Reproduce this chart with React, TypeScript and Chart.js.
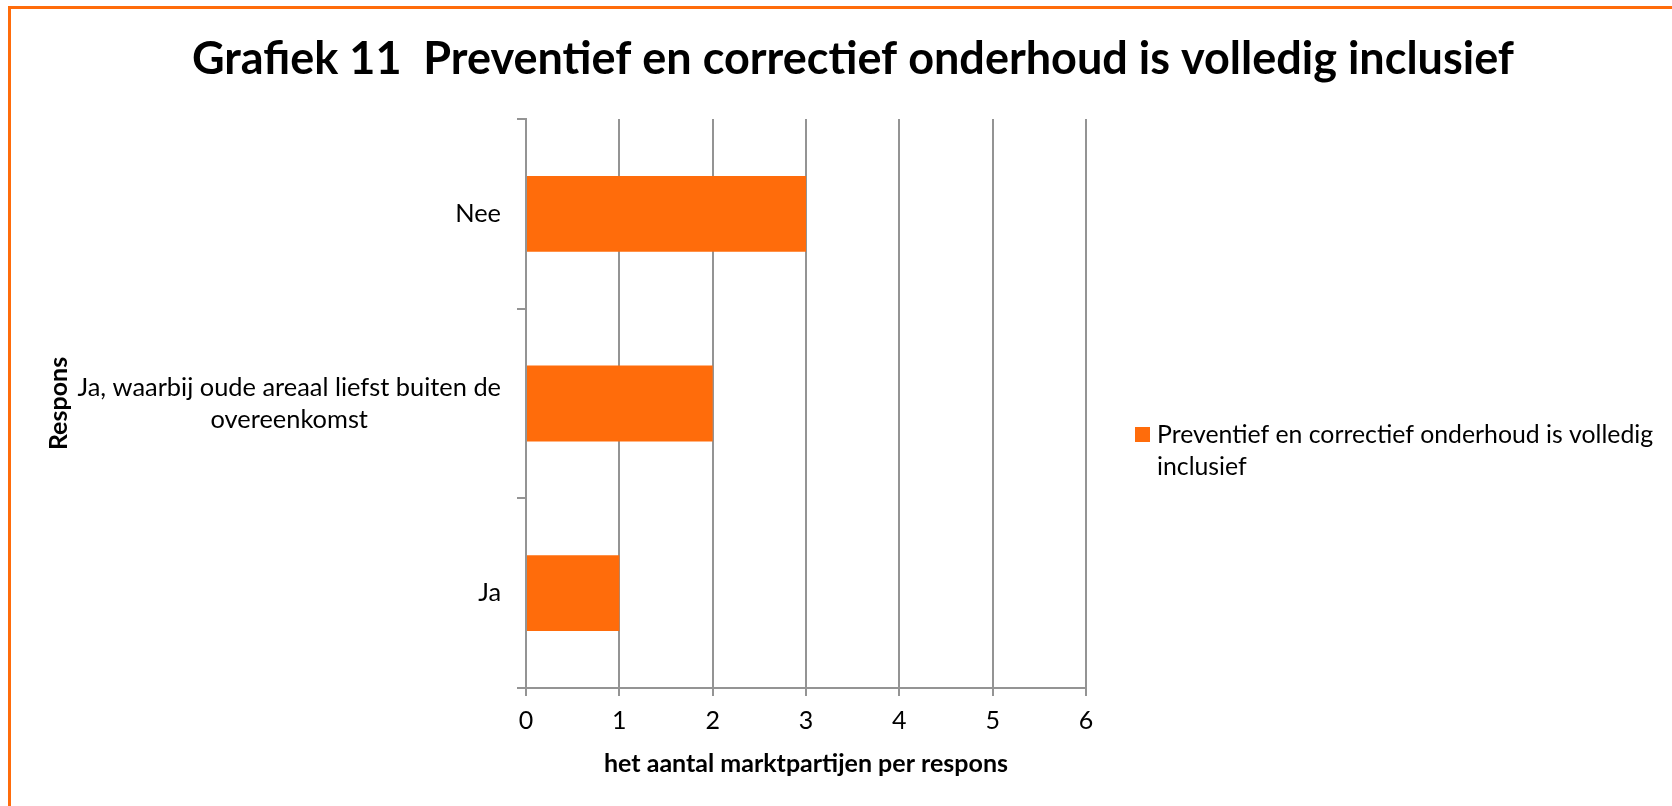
import React, { useEffect, useRef } from "react";
import { Chart, registerables } from "chart.js";

Chart.register(...registerables);

// ---- data ----
const chartTitle = "Grafiek 11  Preventief en correctief onderhoud is volledig inclusief";
const categories: (string | string[])[] = [
  "Nee",
  ["Ja, waarbij oude areaal liefst buiten de", "overeenkomst"],
  "Ja",
];
const seriesName = "Preventief en correctief onderhoud is volledig inclusief";
const legendLines = ["Preventief en correctief onderhoud is volledig", "inclusief"];
const values = [3, 2, 1];
const xMin = 0;
const xMax = 6;
const xStep = 1;
const xAxisTitle = "het aantal marktpartijen per respons";
const yAxisTitle = "Respons";

// ---- style ----
const FONT = "Lato, 'Open Sans', sans-serif";
const ORANGE = "#FF6C0B";
const GRID = "#949494";

const decorPlugin = {
  id: "decor",
  afterDraw(chart: any) {
    const ctx = chart.ctx as CanvasRenderingContext2D;
    const yScale = chart.scales.y;
    ctx.save();
    // outer orange frame (left + top visible)
    ctx.strokeStyle = ORANGE;
    ctx.lineWidth = 3;
    ctx.beginPath();
    ctx.moveTo(9.5, chart.height + 5);
    ctx.lineTo(9.5, 7.5);
    ctx.lineTo(chart.width + 5, 7.5);
    ctx.stroke();

    // title
    ctx.fillStyle = "#000";
    ctx.font = `bold 45px ${FONT}`;
    ctx.textAlign = "center";
    ctx.textBaseline = "middle";
    ctx.fillText(chartTitle, 853, 59);

    // category labels (block right-aligned, lines centered)
    ctx.font = `25.4px ${FONT}`;
    const lineH = 32;
    const rightEdge = 501;
    categories.forEach((cat, i) => {
      const lines = Array.isArray(cat) ? cat : [cat];
      const maxW = Math.max(...lines.map((l) => ctx.measureText(l).width));
      const cx = rightEdge - maxW / 2;
      const cy = yScale.getPixelForValue(i);
      const startY = cy - ((lines.length - 1) * lineH) / 2;
      lines.forEach((l, j) => {
        ctx.textAlign = "center";
        ctx.fillText(l, cx, startY + j * lineH);
      });
    });

    // legend
    const ds = chart.data.datasets[0];
    ctx.fillStyle = ds.backgroundColor;
    ctx.fillRect(1135, 427, 15, 15);
    ctx.fillStyle = "#000";
    ctx.textAlign = "left";
    ctx.font = `24.8px ${FONT}`;
    legendLines.forEach((l, j) => {
      ctx.fillText(l, 1157, 435 + j * 32);
    });
    ctx.restore();
  },
};

export default function App() {
  const ref = useRef<HTMLCanvasElement | null>(null);

  useEffect(() => {
    if (!ref.current) return;
    document.body.style.overflow = "hidden";
    const chart = new Chart(ref.current, {
      type: "bar",
      data: {
        labels: categories as any,
        datasets: [
          {
            label: seriesName,
            data: values,
            backgroundColor: ORANGE,
            borderWidth: 0,
            barPercentage: 0.4,
            categoryPercentage: 1,
          },
        ],
      },
      options: {
        indexAxis: "y",
        responsive: false,
        animation: false,
        layout: { padding: { top: 119, right: 586, bottom: 0, left: 0 } },
        plugins: {
          legend: { display: false },
          title: { display: false },
          tooltip: { enabled: false },
        },
        scales: {
          x: {
            min: xMin,
            max: xMax,
            ticks: {
              stepSize: xStep,
              color: "#000",
              font: { family: FONT, size: 25 },
              padding: 10,
            },
            grid: { color: GRID, lineWidth: 2, tickLength: 8 },
            border: { color: GRID, width: 2 },
            title: {
              display: true,
              text: xAxisTitle,
              color: "#000",
              font: { family: FONT, size: 25, weight: "bold" },
              padding: { top: 0, bottom: 27 },
            },
            afterFit: (s: any) => {
              s.height = 118;
            },
          },
          y: {
            ticks: { display: false },
            grid: {
              offset: true,
              drawOnChartArea: false,
              tickLength: 9,
              color: GRID,
              lineWidth: 2,
            },
            border: { color: GRID, width: 2 },
            title: {
              display: true,
              text: yAxisTitle,
              color: "#000",
              font: { family: FONT, size: 25, weight: "bold" },
              padding: { top: 44, bottom: 0 },
            },
            afterFit: (s: any) => {
              s.width = 526;
            },
          },
        },
      } as any,
      plugins: [decorPlugin],
    });
    return () => chart.destroy();
  }, []);

  return (
    <canvas
      ref={ref}
      width={1672}
      height={806}
      style={{ position: "fixed", left: 0, top: 0, width: 1672, height: 806, background: "#fff" }}
    />
  );
}
